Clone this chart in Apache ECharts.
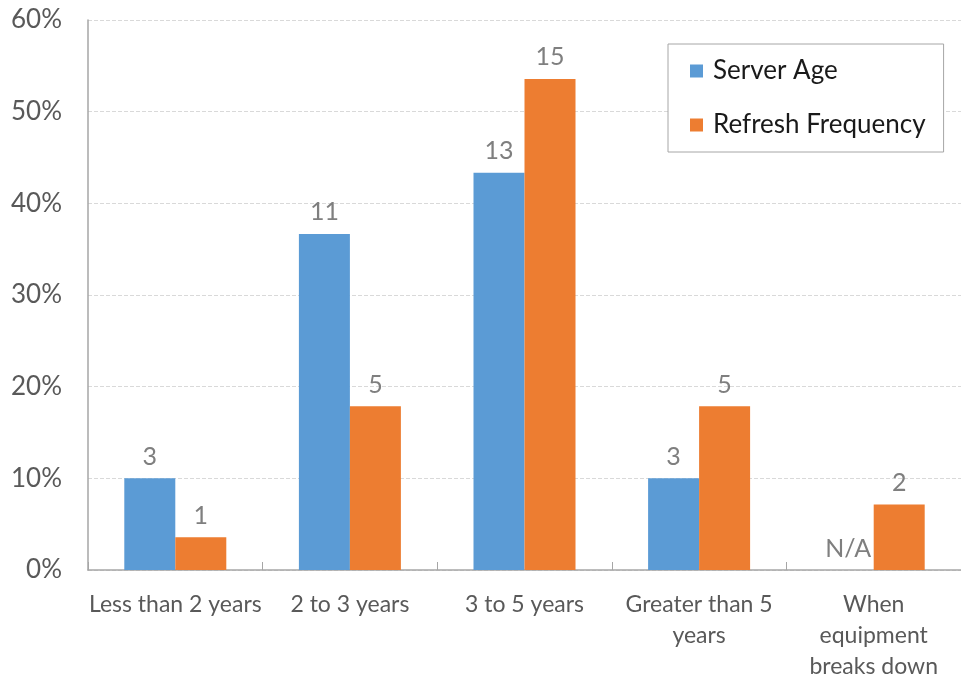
<!DOCTYPE html>
<html>
<head>
<meta charset="utf-8">
<script src="https://cdn.jsdelivr.net/npm/echarts@6/dist/echarts.min.js"></script>
<style>
html,body{margin:0;padding:0;background:#fff;overflow:hidden;}
#c{width:961px;height:682px;}
</style>
</head>
<body>
<div id="c"></div>
<script>
var categories = ['Less than 2 years', '2 to 3 years', '3 to 5 years', 'Greater than 5\nyears', 'When\nequipment\nbreaks down'];
var serverAgeCounts = [3, 11, 13, 3, null];
var refreshCounts = [1, 5, 15, 5, 2];
var serverAgeTotal = 30;
var refreshTotal = 28;
var serverAgeShare = serverAgeCounts.map(function(v){ return v === null ? 0 : v / serverAgeTotal; });
var refreshShare = refreshCounts.map(function(v){ return v / refreshTotal; });
var yTicks = [0, 0.1, 0.2, 0.3, 0.4, 0.5, 0.6];

var FONT = 'Lato';
var chart = echarts.init(document.getElementById('c'), null, {renderer: 'canvas'});
var labelStyle = {
  show: true, position: 'top', distance: 9,
  color: '#7f7f7f', fontSize: 25, fontFamily: FONT
};
chart.setOption({
  animation: false,
  backgroundColor: '#ffffff',
  grid: {left: 88, top: 20, height: 556, width: 885, containLabel: false},
  legend: {
    data: ['Server Age', 'Refresh Frequency'],
    orient: 'vertical',
    left: 668, top: 44,
    padding: [14, 18, 14, 22],
    itemGap: 28,
    itemWidth: 13, itemHeight: 13,
    icon: 'rect',
    borderColor: '#a6a6a6', borderWidth: 1,
    backgroundColor: '#ffffff',
    textStyle: {color: '#1a1a1a', fontSize: 26, fontFamily: FONT, lineHeight: 26, padding: [0, 0, 0, 5]}
  },
  xAxis: {
    type: 'category',
    data: categories,
    axisLine: {lineStyle: {color: '#a6a6a6', width: 1.5}},
    axisTick: {show: true, inside: true, length: 8, lineStyle: {color: '#a6a6a6'}},
    axisLabel: {color: '#595959', fontSize: 23, fontFamily: FONT, lineHeight: 31, margin: 19, interval: 0}
  },
  yAxis: {
    type: 'value',
    min: yTicks[0], max: yTicks[yTicks.length - 1], interval: 0.1,
    axisLine: {show: true, lineStyle: {color: '#a6a6a6', width: 1.5}},
    axisTick: {show: false},
    splitLine: {lineStyle: {color: '#d9d9d9', type: 'dashed'}},
    axisLabel: {
      color: '#595959', fontSize: 26, fontFamily: FONT, margin: 26,
      formatter: function(v){ return Math.round(v * 100) + '%'; }
    }
  },
  series: [
    {
      name: 'Server Age', type: 'bar', data: serverAgeShare,
      barWidth: 51, barGap: '0%',
      itemStyle: {color: '#5b9bd5'},
      label: Object.assign({}, labelStyle, {formatter: function(p){
        var c = serverAgeCounts[p.dataIndex]; return c === null ? 'N/A' : String(c);
      }})
    },
    {
      name: 'Refresh Frequency', type: 'bar', data: refreshShare,
      barWidth: 51,
      itemStyle: {color: '#ed7d31'},
      label: Object.assign({}, labelStyle, {formatter: function(p){
        return String(refreshCounts[p.dataIndex]);
      }})
    }
  ]
});
</script>
</body>
</html>
